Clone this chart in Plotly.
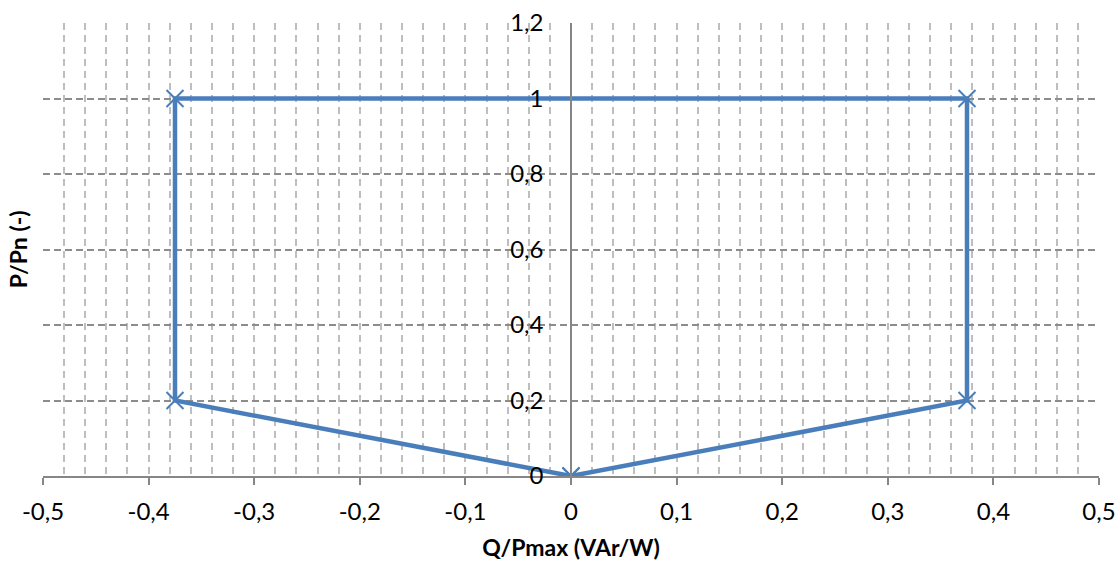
import plotly.graph_objects as go

# P-Q capability envelope (closed polygon)
q_values = [0, 0.375, 0.375, -0.375, -0.375, 0]
p_values = [0, 0.2, 1.0, 1.0, 0.2, 0]

x_tick_vals = [-0.5, -0.4, -0.3, -0.2, -0.1, 0, 0.1, 0.2, 0.3, 0.4, 0.5]
x_tick_text = ["-0,5", "-0,4", "-0,3", "-0,2", "-0,1", "0", "0,1", "0,2", "0,3", "0,4", "0,5"]
y_tick_vals = [0, 0.2, 0.4, 0.6, 0.8, 1.0, 1.2]
y_tick_text = ["0", "0,2", "0,4", "0,6", "0,8", "1", "1,2"]

line_blue = "#4A7EBB"
font_family = "Lato, 'Open Sans', sans-serif"

fig = go.Figure()
fig.add_trace(go.Scatter(
    x=q_values, y=p_values,
    mode="lines+markers",
    line=dict(color=line_blue, width=4.5),
    marker=dict(symbol="x-thin", size=17, line=dict(color=line_blue, width=2)),
    showlegend=False,
    hoverinfo="skip",
))

fig.update_layout(
    width=1118, height=561,
    margin=dict(l=43, r=19, t=23, b=85),
    paper_bgcolor="white", plot_bgcolor="white",
    font=dict(family=font_family, size=24, color="#000000"),
    xaxis=dict(
        range=[-0.5, 0.5],
        automargin=False,
        tickmode="array", tickvals=x_tick_vals, ticktext=x_tick_text,
        showgrid=True, gridcolor="#BEBEBE", gridwidth=1.5, griddash="7px,5px",
        minor=dict(dtick=0.02, tick0=0, showgrid=True, gridcolor="#BEBEBE",
                   gridwidth=1.5, griddash="7px,5px", ticks=""),
        zeroline=False,
        showline=True, linecolor="#868686", linewidth=1.5,
        ticks="outside", ticklen=7, tickcolor="#868686", tickwidth=1.5,
        ticklabelstandoff=6,
        title=dict(text="<b>Q/Pmax (VAr/W)</b>", font=dict(size=23), standoff=20),
        fixedrange=True,
    ),
    yaxis=dict(
        range=[0, 1.2],
        automargin=False,
        tickmode="array", tickvals=y_tick_vals, ticktext=y_tick_text,
        anchor="free", position=0.5,
        showgrid=True, gridcolor="#8C8C8C", gridwidth=1.5, griddash="7px,4px",
        zeroline=False,
        showline=True, linecolor="#868686", linewidth=1.5,
        ticks="", ticklabelstandoff=22,
        layer="above traces",
        fixedrange=True,
    ),
    annotations=[dict(
        text="<b>P/Pn (-)</b>", textangle=-90,
        xref="paper", yref="paper", x=-0.024, y=0.5,
        xanchor="center", yanchor="middle", showarrow=False,
        font=dict(size=23),
    )],
)

fig.write_html("out.html")
